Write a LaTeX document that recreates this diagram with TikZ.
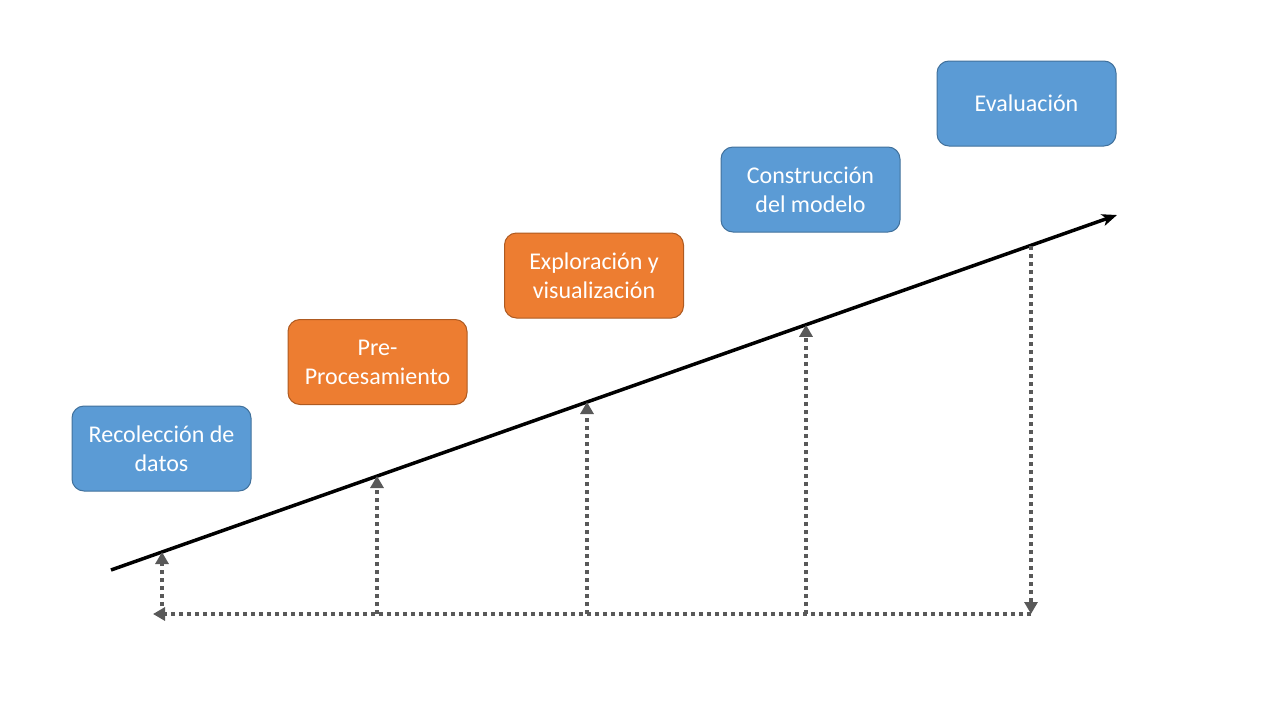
\documentclass[tikz,border=0pt]{standalone}
\usepackage{fontspec}
\setmainfont{Carlito}
\usetikzlibrary{arrows.meta}
\definecolor{bfill}{HTML}{5B9BD5}
\definecolor{bdraw}{HTML}{41719C}
\definecolor{ofill}{HTML}{ED7D31}
\definecolor{odraw}{HTML}{AE5A21}
\definecolor{dotgray}{HTML}{595959}
\tikzset{
  stagebox/.style={rounded corners=12pt, minimum width=179pt, minimum height=85pt,
    line width=1pt, text=white, align=center, inner sep=0pt,
    font=\fontsize{24}{29}\selectfont},
  bluebox/.style={stagebox, fill=bfill, draw=bdraw},
  orangebox/.style={stagebox, fill=ofill, draw=odraw},
  mainline/.style={line width=3.5pt, black, -{Stealth[length=15pt,width=12pt,inset=4pt]}},
  dotline/.style={line width=4pt, dotgray, dash pattern=on 4pt off 4pt},
  dotarrow/.style={dotline, -{Triangle[length=12pt,width=13pt]}}
}
\begin{document}
\begin{tikzpicture}[x=1pt,y=-1pt]
\useasboundingbox (0,0) rectangle (1280,720);
\node[bluebox] (n1) at (161.5,448.5) {Recolección de\\datos};
\node[orangebox] (n2) at (377.5,362) {Pre-\\Procesamiento};
\node[orangebox] (n3) at (594,275.5) {Exploración y\\visualización};
\node[bluebox] (n4) at (810.5,189.5) {Construcción\\del modelo};
\node[bluebox] (n5) at (1026.5,103.5) {Evaluación};
% main line
\coordinate (ls) at (111,570);
\coordinate (le) at (1117,215);
\draw[mainline] (ls) -- (le);
% points on the line
\coordinate (l1) at (162,552);
\coordinate (l2) at (377,476);
\coordinate (l3) at (587,402);
\coordinate (l4) at (806,324.8);
\coordinate (l5) at (1031,246);
% base points
\coordinate (b1) at (162,614);
\coordinate (b2) at (377,614);
\coordinate (b3) at (587,614);
\coordinate (b4) at (806,614);
\coordinate (b5) at (1031,614);
\coordinate (bl) at (153,614);
\draw[dotarrow] (b1) -- (l1);
\draw[dotarrow] (b2) -- (l2);
\draw[dotarrow] (b3) -- (l3);
\draw[dotarrow] (b4) -- (l4);
\draw[dotarrow] (l5) -- (b5);
\draw[dotarrow] (b5) -- (bl);
\end{tikzpicture}
\end{document}
